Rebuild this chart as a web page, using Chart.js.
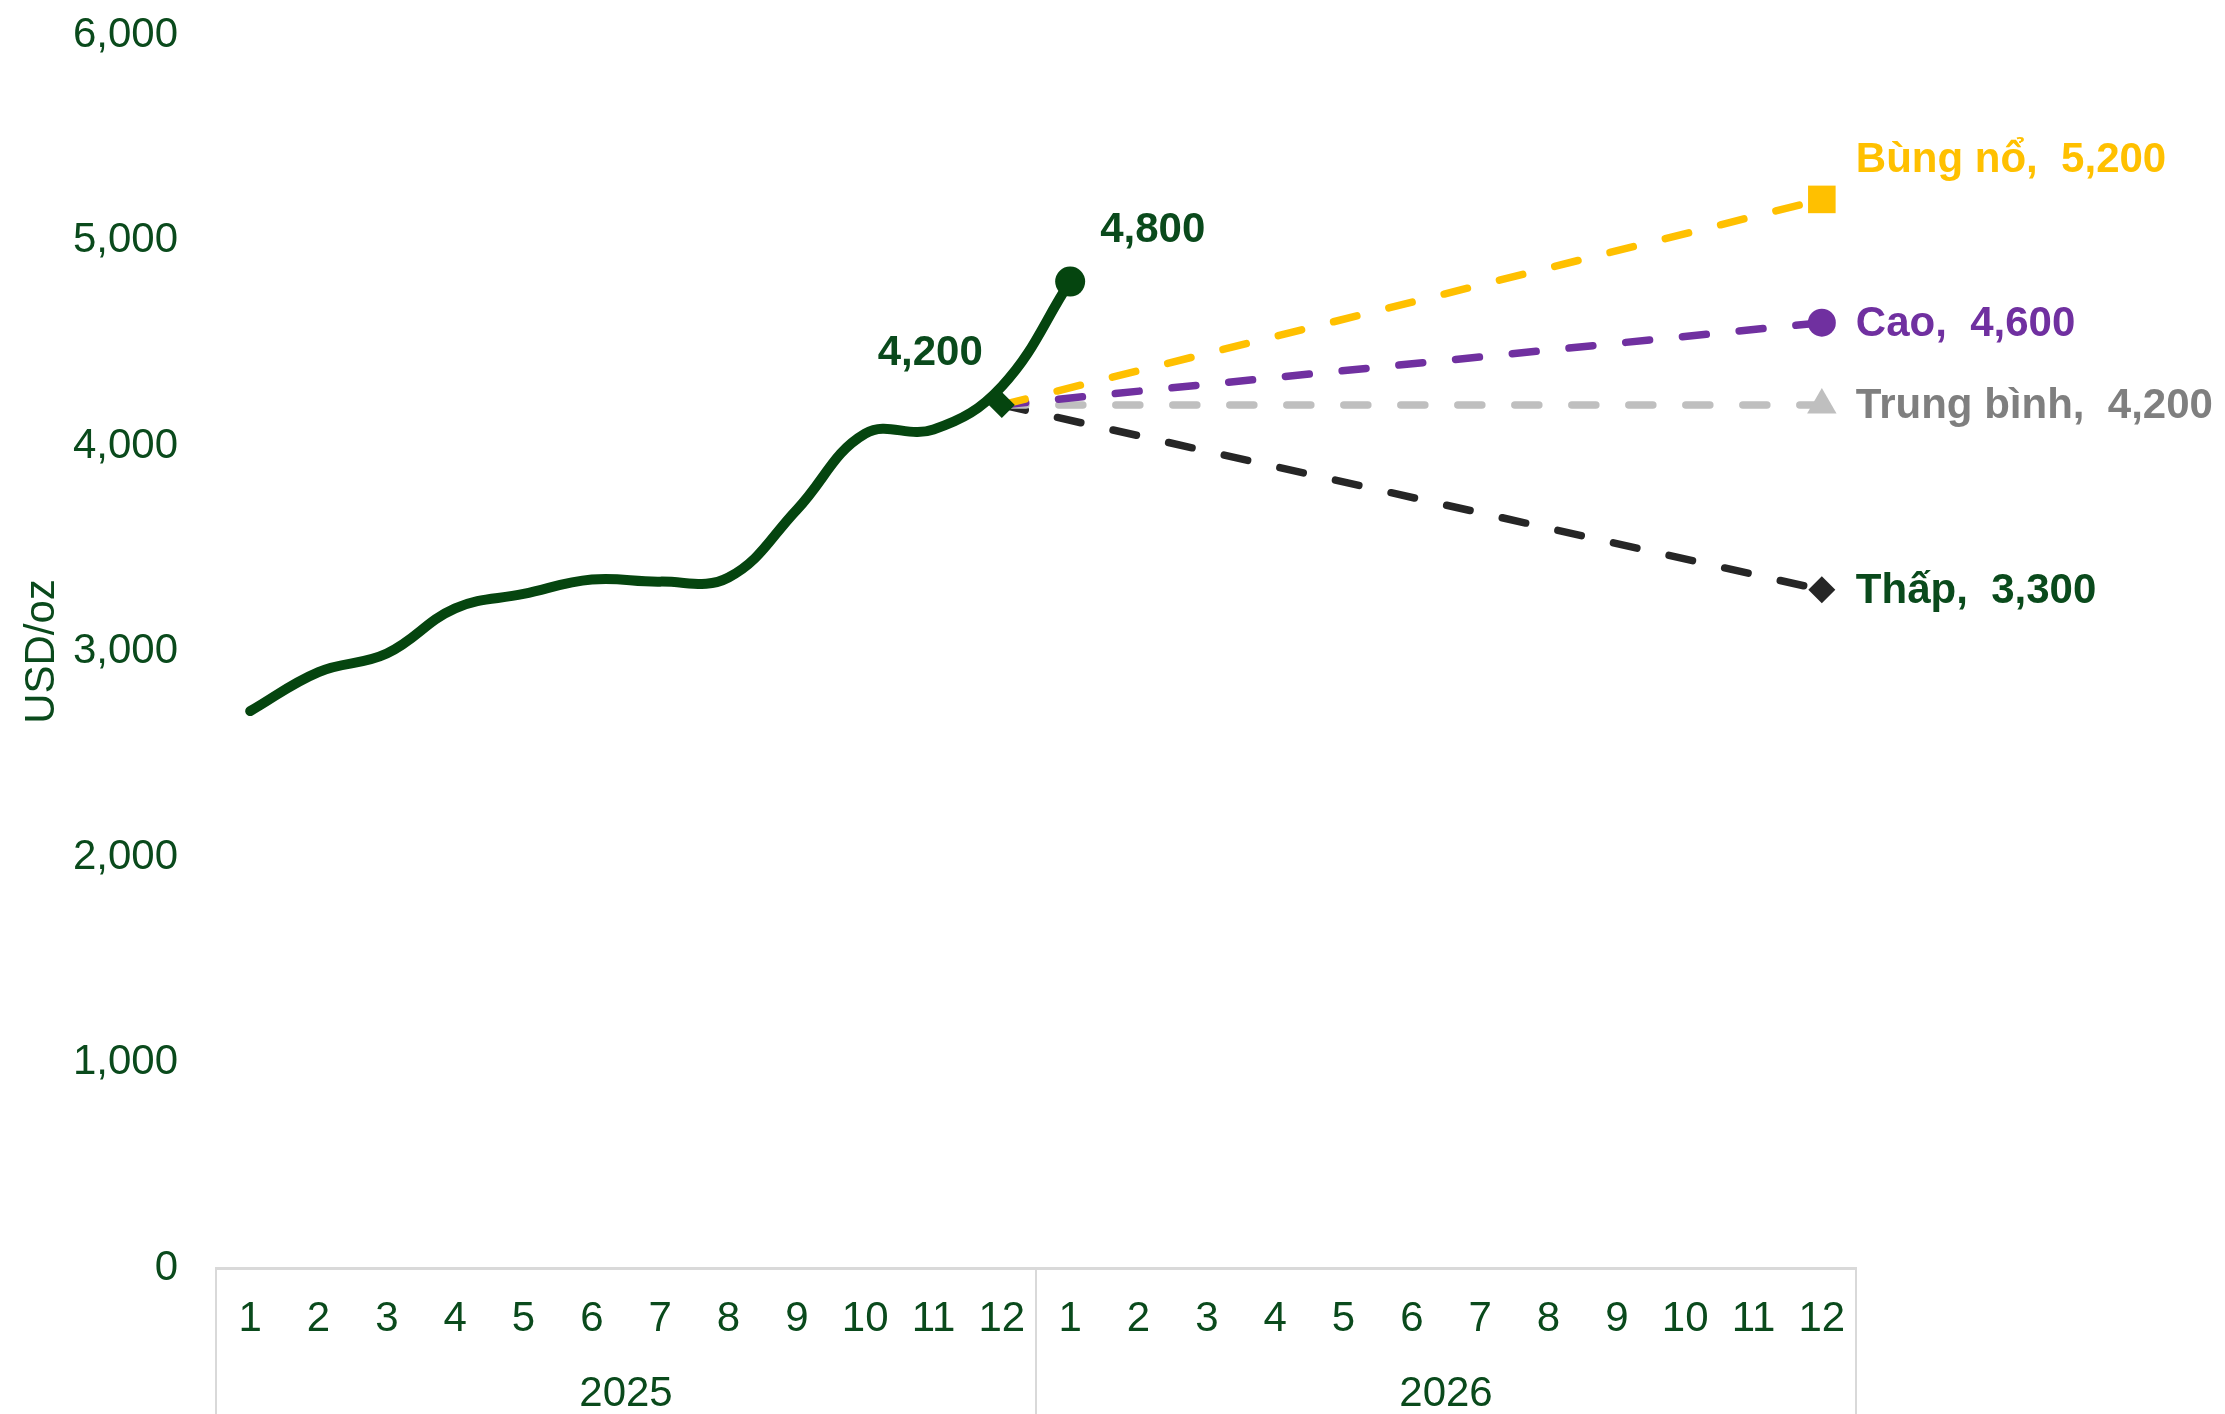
<!DOCTYPE html>
<html>
<head>
<meta charset="utf-8">
<script src="https://cdn.jsdelivr.net/npm/chart.js@4.4.1/dist/chart.umd.min.js"></script>
<style>
  html, body { margin: 0; padding: 0; background: #fff; }
  #khung { width: 2225px; height: 1414px; }
</style>
</head>
<body>
<div id="khung"><canvas id="chart"></canvas></div>
<script>
// tháng trên trục hoành (2 năm), năm ở hàng dưới
const thang = ['1', '2', '3', '4', '5', '6', '7', '8', '9', '10', '11', '12',
               '1', '2', '3', '4', '5', '6', '7', '8', '9', '10', '11', '12'];
const nam = ['2025', '2026'];

// giá vàng thực tế, tháng 1/2025 -> tháng 1/2026 (USD/oz)
const giaThucTe = [2710, 2900, 2990, 3210, 3280, 3350, 3340, 3360, 3690, 4060, 4080, 4290, 4800];

// các kịch bản dự báo: xuất phát tháng 12/2025, kết thúc tháng 12/2026
const giaXuatPhat = 4200;
const tenKichBan = ['Bùng nổ', 'Cao', 'Trung bình', 'Thấp'];
const giaKichBan = [5200, 4600, 4200, 3300];

const xanhDam = '#05450F';
const chuXanh = '#0A4A1C';
const mauDuong = ['#FFC000', '#7030A0', '#BFBFBF', '#262626'];
const mauChu = ['#FFC000', '#7030A0', '#7F7F7F', chuXanh];
const kieuDiem = ['rect', 'circle', 'triangle', 'rectRot'];
const coDiem = [19.5, 14, 17, 13.5];

const FONT = '"Liberation Sans", Arial, sans-serif';

function dayDu(vals, batDau) {
  const arr = new Array(thang.length).fill(null);
  vals.forEach((v, k) => { arr[batDau + k] = v; });
  return arr;
}

const duLieuThucTe = dayDu(giaThucTe, 0);
const diemXuatPhat = dayDu([giaXuatPhat], 11);

const datasets = [
  {
    label: 'Thực tế',
    data: duLieuThucTe,
    borderColor: xanhDam,
    backgroundColor: xanhDam,
    borderWidth: 10,
    tension: 0.4,
    borderCapStyle: 'round',
    pointRadius: duLieuThucTe.map((v, k) => (k === giaThucTe.length - 1 ? 15 : 0)),
    pointBorderWidth: 0,
    clip: false
  },
  {
    label: 'Xuất phát',
    data: diemXuatPhat,
    showLine: false,
    pointStyle: 'rectRot',
    pointRadius: 13,
    pointBorderWidth: 0,
    backgroundColor: xanhDam,
    clip: false
  }
];

tenKichBan.forEach((ten, k) => {
  const data = dayDu([giaXuatPhat], 11);
  data[23] = giaKichBan[k];
  datasets.push({
    label: ten,
    data: data,
    spanGaps: true,
    borderColor: mauDuong[k],
    backgroundColor: mauDuong[k],
    borderWidth: 7.5,
    borderDash: [24, 33],
    borderCapStyle: 'round',
    tension: 0,
    pointStyle: kieuDiem[k],
    pointRadius: data.map((v, j) => (j === 23 ? coDiem[k] : 0)),
    pointBorderWidth: 0,
    clip: false
  });
});

// nhãn số liệu vẽ cạnh điểm
const nhan = [
  { ds: 0, i: 12, text: '4,800', mau: chuXanh, canh: 'left', dx: 30, dy: -51 },
  { ds: 1, i: 11, text: giaXuatPhat.toLocaleString('en-US'), mau: chuXanh, canh: 'right', dx: -19, dy: -51 }
];
tenKichBan.forEach((ten, k) => {
  nhan.push({
    ds: k + 2, i: 23,
    text: ten + ',  ' + giaKichBan[k].toLocaleString('en-US'),
    mau: mauChu[k], canh: 'left', dx: 34, dy: k === 0 ? -39 : 2
  });
});

const nhanDuLieu = {
  id: 'nhanDuLieu',
  afterDatasetsDraw(chart) {
    const ctx = chart.ctx;
    ctx.save();
    ctx.font = 'bold 42px ' + FONT;
    ctx.textBaseline = 'middle';
    nhan.forEach(n => {
      const p = chart.getDatasetMeta(n.ds).data[n.i];
      ctx.fillStyle = n.mau;
      ctx.textAlign = n.canh;
      ctx.fillText(n.text, p.x + n.dx, p.y + n.dy);
    });
    ctx.restore();
  }
};

// vạch ngăn các năm dưới trục hoành
const vachNam = {
  id: 'vachNam',
  afterDraw(chart) {
    const x = chart.scales.x;
    const ctx = chart.ctx;
    const giua = (x.getPixelForValue(11) + x.getPixelForValue(12)) / 2;
    ctx.save();
    ctx.strokeStyle = '#D9D9D9';
    ctx.lineWidth = 2;
    [x.left, giua, x.right].forEach(px => {
      ctx.beginPath();
      ctx.moveTo(px, x.top);
      ctx.lineTo(px, chart.height);
      ctx.stroke();
    });
    ctx.restore();
  }
};

const canvas = document.getElementById('chart').getContext('2d');

const chart = new Chart(canvas, {
  type: 'line',
  data: { labels: thang, datasets: datasets },
  options: {
    responsive: true,
    maintainAspectRatio: false,
    animation: false,
    locale: 'en-US',
    layout: { padding: { top: 35, right: 369, bottom: 0, left: 0 } },
    plugins: {
      legend: { display: false },
      tooltip: { enabled: false }
    },
    scales: {
      x: {
        type: 'category',
        offset: true,
        weight: 0,
        grid: { display: false, drawTicks: false },
        border: { display: true, color: '#D9D9D9', width: 3 },
        ticks: {
          color: chuXanh,
          font: { family: FONT, size: 42, lineHeight: 1 },
          padding: 30,
          maxRotation: 0,
          autoSkip: false
        },
        afterFit(s) { s.height = 76; }
      },
      nam: {
        type: 'category',
        position: 'bottom',
        labels: nam,
        offset: true,
        weight: 1,
        grid: { display: false, drawTicks: false },
        border: { display: false },
        ticks: {
          color: chuXanh,
          font: { family: FONT, size: 42, lineHeight: 1 },
          padding: 29,
          maxRotation: 0
        },
        afterFit(s) { s.height = 70; }
      },
      y: {
        min: 0,
        max: 6000,
        grid: { display: false, drawTicks: false },
        border: { display: false },
        ticks: {
          stepSize: 1000,
          color: chuXanh,
          font: { family: FONT, size: 42 },
          padding: 38
        },
        title: {
          display: true,
          text: 'USD/oz',
          color: chuXanh,
          font: { family: FONT, size: 42 },
          padding: { top: 17, bottom: 0 }
        },
        afterFit(s) {
          s.width = 216;
          // nhãn trên cùng được phép tràn lên lề trên
          s.paddingTop = 0;
          s.paddingBottom = 0;
        }
      }
    }
  },
  plugins: [nhanDuLieu, vachNam]
});
</script>
</body>
</html>
